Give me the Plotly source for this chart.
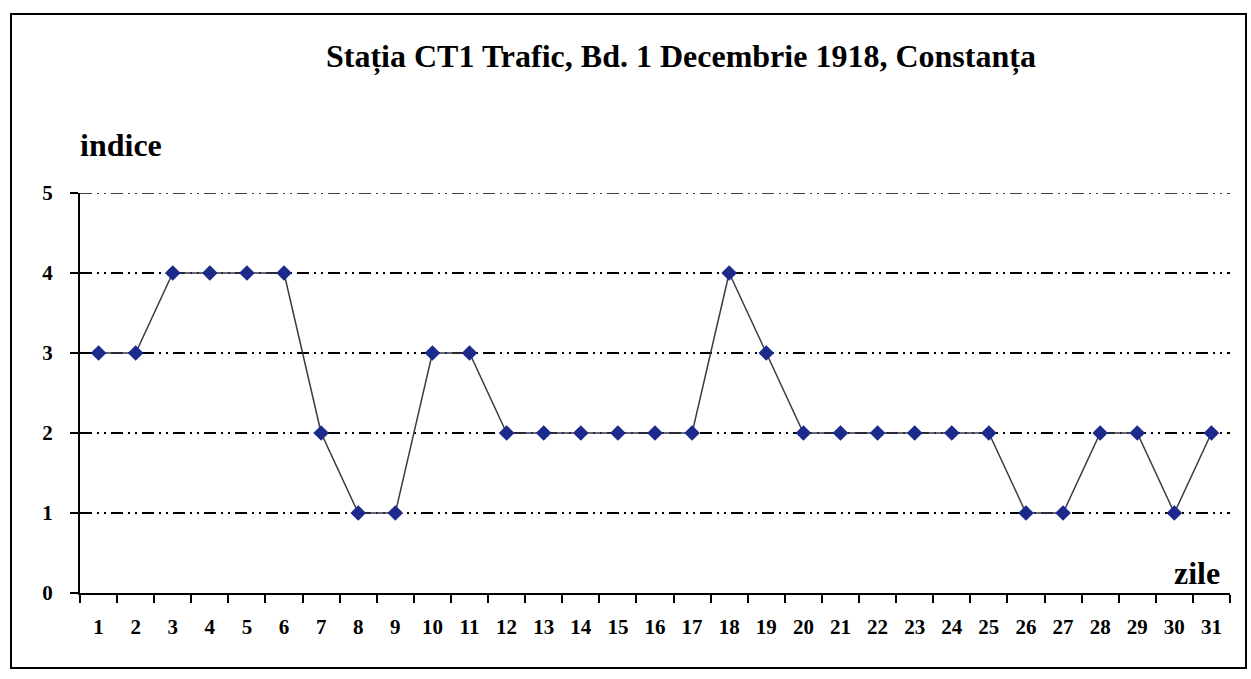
import plotly.graph_objects as go

days = [str(d) for d in range(1, 32)]
indice = [3, 3, 4, 4, 4, 4, 2, 1, 1, 3, 3, 2, 2, 2, 2, 2, 2, 4, 3, 2, 2, 2, 2, 2, 2, 1, 1, 2, 2, 1, 2]
y_ticks = [0, 1, 2, 3, 4, 5]

W, H = 1251, 679
L, R, T, B = 80, 21, 193, 86
pw, ph = W - L - R, H - T - B

def px(x):
    return (x - L) / pw

def py(y):
    return (H - B - y) / ph

SERIF = "Liberation Serif, Times New Roman, serif"
DASH = "12px,5px,2px,5px,2px,5px"

fig = go.Figure()
fig.add_trace(go.Scatter(
    x=days, y=indice, mode="lines+markers",
    line=dict(color="#3a3a4a", width=1.5),
    marker=dict(symbol="diamond", size=12, color="#1c2a8c",
                line=dict(color="#1c2a8c", width=0)),
    showlegend=False, cliponaxis=False,
))

fig.update_layout(
    width=W, height=H,
    margin=dict(l=L, r=R, t=T, b=B),
    paper_bgcolor="white", plot_bgcolor="white",
    font=dict(family=SERIF, color="black"),
    xaxis=dict(
        type="category", tickson="boundaries", range=[-0.5, 30.5],
        showline=True, linecolor="black", linewidth=2,
        ticks="outside", ticklen=8, tickwidth=1.5, tickcolor="black",
        showgrid=False, zeroline=False,
        tickfont=dict(family=SERIF, size=21, color="black", weight="bold"),
        ticklabelstandoff=14,
    ),
    yaxis=dict(
        range=[0, 5], tickvals=y_ticks,
        showline=True, linecolor="black", linewidth=2,
        ticks="outside", ticklen=8, tickwidth=1.5, tickcolor="black",
        showgrid=True, gridcolor="black", gridwidth=1.6,
        griddash=DASH,
        zeroline=False,
        tickfont=dict(family=SERIF, size=21, color="black", weight="bold"),
        ticklabelstandoff=13,
    ),
    annotations=[
        dict(text="<b>Stația CT1 Trafic, Bd. 1 Decembrie 1918, Constanța</b>",
             xref="paper", yref="paper", x=px(681), y=py(57),
             showarrow=False, font=dict(family=SERIF, size=32, color="black"),
             xanchor="center", yanchor="middle"),
        dict(text="<b>indice</b>", xref="paper", yref="paper",
             x=px(78), y=py(145), showarrow=False,
             font=dict(family=SERIF, size=32, color="black"),
             xanchor="left", yanchor="middle"),
        dict(text="<b>zile</b>", xref="paper", yref="paper",
             x=px(1222), y=py(573), showarrow=False,
             font=dict(family=SERIF, size=32, color="black"),
             xanchor="right", yanchor="middle"),
    ],
    shapes=[
        dict(type="line", xref="paper", yref="y",
             x0=0, x1=1, y0=y_ticks[-1], y1=y_ticks[-1], layer="below",
             line=dict(color="black", width=1.6, dash=DASH)),
        dict(type="rect", xref="paper", yref="paper",
             x0=px(11), x1=px(1246), y0=py(668), y1=py(14),
             line=dict(color="black", width=2), fillcolor="rgba(0,0,0,0)"),
    ],
)

fig.write_html(
    "out.html",
    config={"displayModeBar": False},
    post_script="document.body.style.margin='0';document.body.style.overflow='hidden';",
)
